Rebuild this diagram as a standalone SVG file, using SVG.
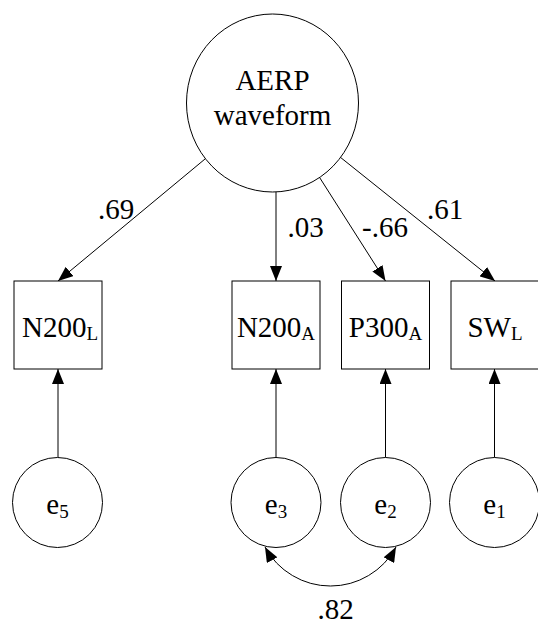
<svg xmlns="http://www.w3.org/2000/svg" width="538" height="625" viewBox="0 0 538 625" font-family="'Liberation Serif', 'Times New Roman', Times, serif">
<style>
  .shape { fill: #fff; stroke: #000; stroke-width: 1; }
  .edge { fill: none; stroke: #000; stroke-width: 1; }
  .t { font-family: 'Liberation Serif', 'Times New Roman', Times, serif; font-size: 29px; fill: #000; }
  .sub { font-size: 19px; }
</style>
<defs>
  <marker id="arr" markerUnits="userSpaceOnUse" markerWidth="15" markerHeight="12" refX="15" refY="6" orient="auto-start-reverse">
    <path d="M0,0 L15,6 L0,12 z" fill="#000"/>
  </marker>
</defs>
<rect width="538" height="625" fill="#fff"/>
<g id="connectors">
  <line class="edge" x1="205.4" y1="158.7" x2="58" y2="281" marker-end="url(#arr)"/>
  <line class="edge" x1="276" y1="191.9" x2="276" y2="281" marker-end="url(#arr)"/>
  <line class="edge" x1="319.6" y1="177.5" x2="385.5" y2="281" marker-end="url(#arr)"/>
  <line class="edge" x1="340.5" y1="157.4" x2="495" y2="281" marker-end="url(#arr)"/>
  <line class="edge" x1="58" y1="457.5" x2="58" y2="369" marker-end="url(#arr)"/>
  <line class="edge" x1="276" y1="457.5" x2="276" y2="369" marker-end="url(#arr)"/>
  <line class="edge" x1="385.5" y1="457.5" x2="385.5" y2="369" marker-end="url(#arr)"/>
  <line class="edge" x1="494.5" y1="457.5" x2="494.5" y2="369" marker-end="url(#arr)"/>
  <path class="edge" d="M265,547 A74.5,74.5 0 0 0 396,547" marker-start="url(#arr)" marker-end="url(#arr)"/>
  <text class="t" x="116" y="219" text-anchor="middle">.69</text>
  <text class="t" x="305.5" y="237" text-anchor="middle">.03</text>
  <text class="t" x="385" y="237" text-anchor="middle">-.66</text>
  <text class="t" x="445" y="219" text-anchor="middle">.61</text>
  <text class="t" x="335.5" y="619" text-anchor="middle">.82</text>
</g>
<g id="AERP">
  <ellipse class="shape" cx="272.5" cy="103" rx="86" ry="89"/>
  <text class="t" x="272.5" y="90" text-anchor="middle">AERP</text>
  <text class="t" x="272.5" y="125" text-anchor="middle">waveform</text>
</g>
<g id="N200L">
  <rect class="shape" x="14" y="281" width="88" height="88"/>
  <text class="t" x="60" y="337" text-anchor="middle">N200<tspan class="sub" dy="3">L</tspan></text>
</g>
<g id="N200A">
  <rect class="shape" x="232" y="281" width="88" height="88"/>
  <text class="t" x="276" y="337" text-anchor="middle">N200<tspan class="sub" dy="3">A</tspan></text>
</g>
<g id="P300A">
  <rect class="shape" x="341.5" y="281" width="88" height="88"/>
  <text class="t" x="385.5" y="337" text-anchor="middle">P300<tspan class="sub" dy="3">A</tspan></text>
</g>
<g id="SWL">
  <rect class="shape" x="451" y="281" width="88" height="88"/>
  <text class="t" x="495" y="337" text-anchor="middle">SW<tspan class="sub" dy="3">L</tspan></text>
</g>
<g id="e5">
  <circle class="shape" cx="57.5" cy="502.5" r="45"/>
  <text class="t" x="57.5" y="514" text-anchor="middle">e<tspan class="sub" dy="4">5</tspan></text>
</g>
<g id="e3">
  <circle class="shape" cx="276" cy="502.5" r="45"/>
  <text class="t" x="276" y="514" text-anchor="middle">e<tspan class="sub" dy="4">3</tspan></text>
</g>
<g id="e2">
  <circle class="shape" cx="385.5" cy="502.5" r="45"/>
  <text class="t" x="385.5" y="514" text-anchor="middle">e<tspan class="sub" dy="4">2</tspan></text>
</g>
<g id="e1">
  <circle class="shape" cx="494.5" cy="502.5" r="45"/>
  <text class="t" x="494.5" y="514" text-anchor="middle">e<tspan class="sub" dy="4">1</tspan></text>
</g>
</svg>
